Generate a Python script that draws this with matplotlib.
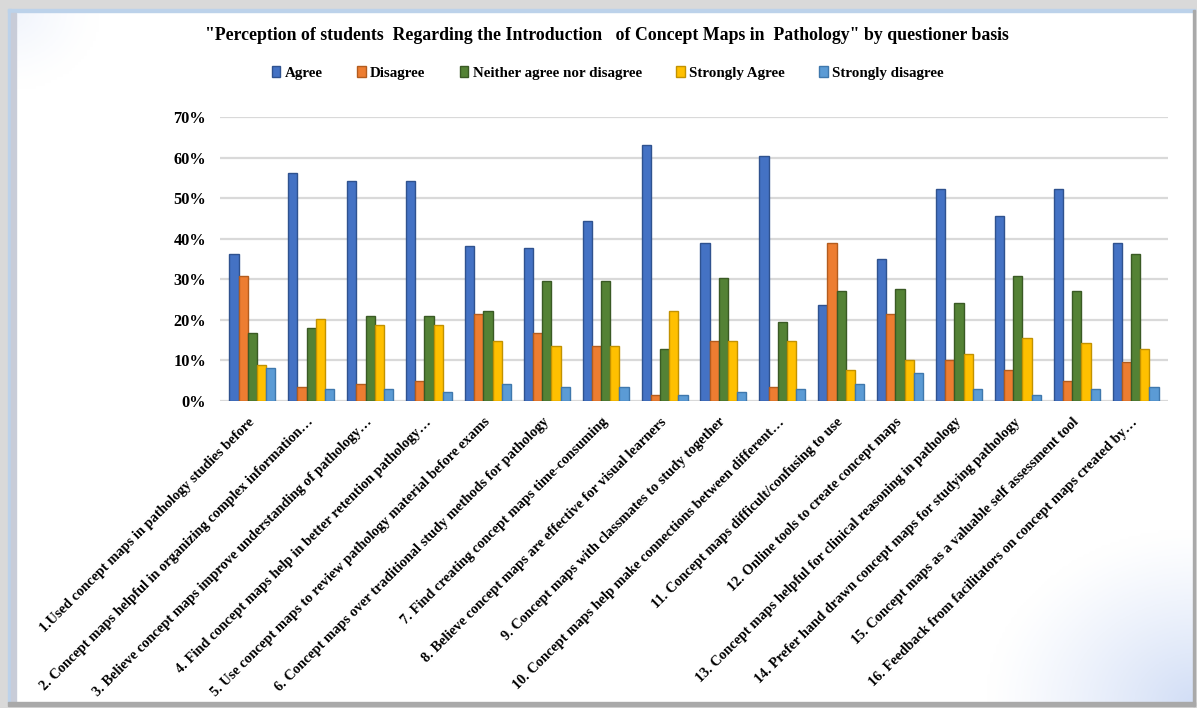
import numpy as np
import matplotlib.pyplot as plt
from matplotlib.patches import Rectangle
from matplotlib.transforms import ScaledTranslation, blended_transform_factory

# questions on the x axis
questions = [
    "1.Used concept maps in pathology studies before",
    "2. Concept maps helpful in organizing complex information\u2026",
    "3. Believe concept maps improve understanding of pathology\u2026",
    "4. Find concept maps help in better retention pathology\u2026",
    "5. Use concept maps to review pathology material before exams",
    "6. Concept maps over traditional study methods for pathology",
    "7. Find creating concept maps time-consuming",
    "8. Believe concept maps are effective for visual learners",
    "9. Concept maps with classmates to study together",
    "10. Concept maps help make connections between different\u2026",
    "11. Concept maps difficult/confusing to use",
    "12. Online tools to create concept maps",
    "13. Concept maps helpful for clinical reasoning in pathology",
    "14. Prefer hand drawn concept maps for studying pathology",
    "15. Concept maps as a valuable self assessment tool",
    "16. Feedback from facilitators on concept maps created by\u2026",
]

series_names = ["Agree", "Disagree", "Neither agree nor disagree", "Strongly Agree", "Strongly disagree"]

# percentages
agree = [36.2, 56.3, 54.3, 54.3, 38.2, 37.6, 44.3, 63.0, 39.0, 60.4, 23.6, 35.0, 52.3, 45.6, 52.3, 39.0]
disagree = [30.9, 3.5, 4.2, 4.9, 21.5, 16.8, 13.6, 1.5, 14.8, 3.5, 39.0, 21.5, 10.1, 7.6, 4.9, 9.5]
neither = [16.8, 18.1, 20.9, 20.9, 22.2, 29.5, 29.5, 12.9, 30.2, 19.5, 27.0, 27.6, 24.2, 30.9, 27.0, 36.3]
strongly_agree = [8.8, 20.1, 18.8, 18.8, 14.8, 13.5, 13.5, 22.2, 14.8, 14.8, 7.6, 10.2, 11.6, 15.5, 14.2, 12.9]
strongly_disagree = [8.2, 2.9, 2.9, 2.1, 4.2, 3.5, 3.5, 1.5, 2.1, 2.9, 4.2, 6.9, 2.9, 1.5, 2.9, 3.5]

all_series = [agree, disagree, neither, strongly_agree, strongly_disagree]
colors = ["#4472C4", "#ED7D31", "#548235", "#FFC000", "#5B9BD5"]
edges = ["#2F528F", "#B35C1E", "#3A5A24", "#C29200", "#3F78AD"]

serif = ["Liberation Serif", "DejaVu Serif"]

fig = plt.figure(figsize=(11.97, 7.08), dpi=100, facecolor="#d9d9d9")
W, H = 1197, 708

# white slide panel with soft blue glow in the corners
bg = fig.add_axes([8 / W, 5 / H, 1187 / W, 693 / H], zorder=-10)
ny, nx = 231, 396
yy, xx = np.mgrid[0:ny, 0:nx]
img = np.ones((ny, nx, 3))
d_br = np.hypot((xx - nx) / 70.0, (yy - ny) / 58.0)
d_tl = np.hypot(xx / 30.0, yy / 26.0)
glow = np.clip(1 - d_br, 0, 1) ** 1.2 * 0.6 + np.clip(1 - d_tl, 0, 1) ** 1.3 * 0.2
tint = np.array([0.70, 0.78, 0.94])
img = img * (1 - glow[..., None]) + tint * glow[..., None]
bg.imshow(img, aspect="auto", extent=[0, 1, 0, 1])
bg.set_xlim(0, 1)
bg.set_ylim(0, 1)
bg.axis("off")
fig.patches.append(Rectangle((8 / W, 696 / H), 1187 / W, 3 / H, transform=fig.transFigure,
                             color="#bcd2ea", zorder=-5))
fig.patches.append(Rectangle((8 / W, 5 / H), 3 / W, 694 / H, transform=fig.transFigure,
                             color="#bcd2ea", zorder=-5))
fig.patches.append(Rectangle((11 / W, 5 / H), 5 / W, 690 / H, transform=fig.transFigure,
                             color="#c8ccd8", zorder=-5))
fig.patches.append(Rectangle((8 / W, 2 / H), 1187 / W, 4 / H, transform=fig.transFigure,
                             color="#a9a9a9", zorder=-5))
fig.patches.append(Rectangle((1193 / W, 2 / H), 2 / W, 696 / H, transform=fig.transFigure,
                             color="#a9a9a9", zorder=-5))

ax = fig.add_axes([220 / W, 1 - 401 / H, (1168 - 220) / W, (401 - 117) / H])
ax.patch.set_alpha(0)

x = np.arange(len(questions))
bw = 0.156
for k, (vals, name) in enumerate(zip(all_series, series_names)):
    ax.bar(x + (k - 2) * bw, vals, bw, color=colors[k], edgecolor=edges[k],
           linewidth=1.0, label=name, zorder=3)

ax.set_xlim(-0.55, len(questions) - 0.45)
ax.set_ylim(0, 70)
ax.set_yticks(range(0, 71, 10))
ax.set_yticklabels([f"{v}%" for v in range(0, 71, 10)], fontfamily=serif,
                   fontweight="bold", fontsize=11.8)
ax.tick_params(axis="y", length=0, pad=10)
ax.grid(axis="y", color="#d9d9d9", linewidth=1.6, zorder=0)
for s in ax.spines.values():
    s.set_visible(False)

# rotated category labels, ending under each bar group
ax.set_xticks([])
trans = blended_transform_factory(ax.transData, ax.transAxes)
off = ScaledTranslation(0, -19 / 100, fig.dpi_scale_trans)
for i, q in enumerate(questions):
    ax.text(i, 0, q, transform=trans + off, rotation=45, rotation_mode="anchor",
            ha="right", va="center", fontsize=10.4, fontweight="bold", fontfamily=serif)

fig.text(607 / W, 1 - 36 / H,
         "\"Perception of students  Regarding the Introduction   of Concept Maps in  Pathology\" by questioner basis",
         ha="center", va="center", fontsize=12.8, fontweight="bold", fontfamily=serif)

ax.legend(loc="center", bbox_to_anchor=(608 / W, 1 - 73 / H), bbox_transform=fig.transFigure,
          ncol=5, frameon=False, prop={"family": serif, "weight": "bold", "size": 10.8},
          handlelength=0.55, handleheight=0.7, handletextpad=0.3, columnspacing=2.3)

fig.savefig("out.png", dpi=100, facecolor=fig.get_facecolor())
